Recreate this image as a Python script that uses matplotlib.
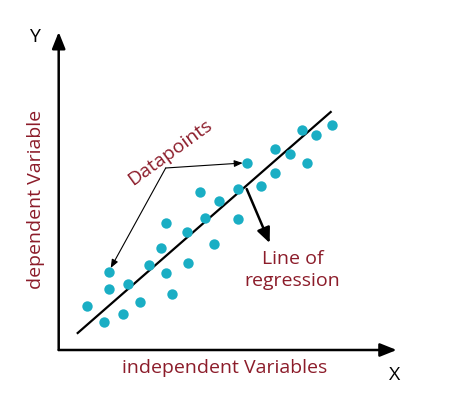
import matplotlib
matplotlib.use('Agg')
import matplotlib.pyplot as plt

# data (axis units, origin at the axes corner)
xs = [28, 45, 50, 50, 64, 69, 81, 90, 102, 107, 107, 113, 128, 129, 141,
      146, 155, 160, 179, 179, 188, 202, 216, 216, 231, 243, 248, 257, 273]
ys = [44, 28, 78, 61, 36, 66, 48, 85, 102, 127, 77, 56, 118, 87, 158,
      132, 106, 149, 161, 131, 187, 164, 201, 177, 196, 220, 187, 215, 225]
fit_x = [19, 272]
fit_y = [17, 238]

dot_c = '#1aaec4'
txt_c = '#8c1c2a'
plt.rcParams['font.family'] = ['Open Sans', 'DejaVu Sans']

fig = plt.figure(figsize=(4.69, 4.11), dpi=100)
ax = fig.add_axes([0, 0, 1, 1])
ax.set_xlim(-58.7, 410.3)
ax.set_ylim(-61, 350)
ax.axis('off')

# axes with arrows
head = '-|>,head_length=1.0,head_width=0.4'
ax.annotate('', xy=(0, 318), xytext=(0, 0),
            arrowprops=dict(arrowstyle=head, lw=1.8, color='k',
                            shrinkA=0, shrinkB=0))
ax.annotate('', xy=(338, 0), xytext=(0, 0),
            arrowprops=dict(arrowstyle=head, lw=1.8, color='k',
                            shrinkA=0, shrinkB=0))

# points and fitted line
ax.scatter(xs, ys, s=56, color=dot_c, zorder=3, lw=0)
ax.plot(fit_x, fit_y, color='k', lw=1.6, zorder=2)

# datapoints callout
for tip in [(184, 187), (52, 82)]:
    ax.annotate('', xy=tip, xytext=(107, 182),
                arrowprops=dict(arrowstyle='-|>,head_length=0.5,head_width=0.2',
                                lw=0.8, color='k', shrinkA=0, shrinkB=0))
ax.text(111, 198, 'Datapoints', rotation=36, color=txt_c, fontsize=14,
        ha='center', va='center', rotation_mode='anchor')

# regression callout
ax.annotate('', xy=(211, 107), xytext=(188, 161),
            arrowprops=dict(arrowstyle='-|>,head_length=0.9,head_width=0.4',
                            lw=1.8, color='k', shrinkA=0, shrinkB=0))
ax.text(234, 80, 'Line of\nregression', color=txt_c, fontsize=14,
        ha='center', va='center', linespacing=1.25)

# labels
ax.text(166, -18, 'independent Variables', color=txt_c, fontsize=14,
        ha='center', va='center')
ax.text(-22.7, 151, 'dependent Variable', color=txt_c, fontsize=14,
        ha='center', va='center', rotation=90)
ax.text(-24, 313, 'Y', fontsize=14, ha='center', va='center')
ax.text(336, -25, 'X', fontsize=14, ha='center', va='center')

fig.savefig('out.png', dpi=100)
